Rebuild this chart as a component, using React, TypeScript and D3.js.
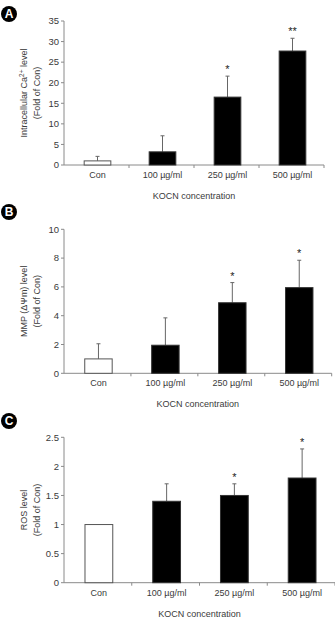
import React, { useEffect, useRef } from 'react';
import * as d3 from 'd3';

// Treatment groups shared by all three panels
const categories = ['Con', '100 µg/ml', '250 µg/ml', '500 µg/ml'];

// Panel A: intracellular Ca2+
const caMean = [1, 3.2, 16.5, 27.7];
const caSd = [1.1, 3.9, 5.1, 3.1];
const caSig = ['', '', '*', '**'];
const caTicks = [0, 5, 10, 15, 20, 25, 30, 35];

// Panel B: mitochondrial membrane potential
const mmpMean = [1, 1.95, 4.9, 5.95];
const mmpSd = [1.05, 1.9, 1.4, 1.9];
const mmpSig = ['', '', '*', '*'];
const mmpTicks = [0, 2, 4, 6, 8, 10];

// Panel C: ROS
const rosMean = [1, 1.4, 1.5, 1.8];
const rosSd = [0, 0.3, 0.2, 0.5];
const rosSig = ['', '', '*', '*'];
const rosTicks = [0, 0.5, 1, 1.5, 2, 2.5];

const FONT = 'Arial, "Liberation Sans", Helvetica, sans-serif';
const TEXT = '#3a3a3a';
const AXIS = '#8a8a8a';

type PanelSpec = {
  letter: string;
  mean: number[];
  sd: number[];
  sig: string[];
  ticks: number[];
  label: (g: d3.Selection<SVGTextElement, unknown, null, undefined>) => void;
  top: number;
  bottom: number;
  right: number;
  badgeY: number;
};

const panels: PanelSpec[] = [
  {
    letter: 'A', mean: caMean, sd: caSd, sig: caSig, ticks: caTicks,
    label: t => {
      t.append('tspan').text('Intracellular Ca');
      t.append('tspan').attr('baseline-shift', 'super').attr('font-size', '6.5px').text('2+');
      t.append('tspan').text(' level');
    },
    top: 21, bottom: 165, right: 324, badgeY: 14,
  },
  {
    letter: 'B', mean: mmpMean, sd: mmpSd, sig: mmpSig, ticks: mmpTicks,
    label: t => { t.text('MMP (ΔΨm) level'); },
    top: 229.3, bottom: 373.3, right: 331.7, badgeY: 212,
  },
  {
    letter: 'C', mean: rosMean, sd: rosSd, sig: rosSig, ticks: rosTicks,
    label: t => { t.text('ROS level'); },
    top: 437.3, bottom: 582.7, right: 335, badgeY: 421,
  },
];

const App = () => {
  const svgRef = useRef<SVGSVGElement>(null);

  useEffect(() => {
    const svg = d3.select(svgRef.current);
    svg.selectAll('*').remove();

    const left = 64;

    panels.forEach(p => {
      const g = svg.append('g');

      const x = d3.scaleBand<string>()
        .domain(categories)
        .range([left + 1, p.right + 1])
        .paddingInner(0.59)
        .paddingOuter(0.295);
      const y = d3.scaleLinear()
        .domain([0, p.ticks[p.ticks.length - 1]])
        .range([p.bottom, p.top]);
      const step = x.step();

      // panel badge
      g.append('circle')
        .attr('cx', 9).attr('cy', p.badgeY).attr('r', 8)
        .attr('fill', '#000');
      g.append('text')
        .attr('x', 9).attr('y', p.badgeY)
        .attr('dy', '0.36em')
        .attr('text-anchor', 'middle')
        .attr('font-family', FONT)
        .attr('font-weight', 'bold')
        .attr('font-size', '12px')
        .attr('fill', '#fff')
        .text(p.letter);

      // y axis
      g.append('line')
        .attr('x1', left).attr('x2', left)
        .attr('y1', y(p.ticks[p.ticks.length - 1])).attr('y2', p.bottom)
        .attr('stroke', AXIS);
      p.ticks.forEach(t => {
        g.append('line')
          .attr('x1', left - 3).attr('x2', left)
          .attr('y1', y(t)).attr('y2', y(t))
          .attr('stroke', AXIS);
        g.append('text')
          .attr('x', left - 5).attr('y', y(t))
          .attr('dy', '0.35em')
          .attr('text-anchor', 'end')
          .attr('font-family', FONT)
          .attr('font-size', '9.5px')
          .attr('fill', TEXT)
          .text(String(t));
      });

      // x axis with ticks between groups
      g.append('line')
        .attr('x1', left).attr('x2', p.right)
        .attr('y1', p.bottom).attr('y2', p.bottom)
        .attr('stroke', AXIS);
      categories.forEach((c, i) => {
        const bx = left + step * (i + 1);
        g.append('line')
          .attr('x1', bx).attr('x2', bx)
          .attr('y1', p.bottom).attr('y2', p.bottom + 3)
          .attr('stroke', AXIS);
      });

      // bars
      categories.forEach((c, i) => {
        const x0 = x(c) as number;
        const bw = x.bandwidth();
        const cx = x0 + bw / 2;
        const yTop = y(p.mean[i]);
        const yErr = y(p.mean[i] + p.sd[i]);

        if (p.sd[i] > 0) {
          g.append('line')
            .attr('x1', cx).attr('x2', cx)
            .attr('y1', yTop).attr('y2', yErr)
            .attr('stroke', '#666');
          g.append('line')
            .attr('x1', cx - 2).attr('x2', cx + 2)
            .attr('y1', yErr).attr('y2', yErr)
            .attr('stroke', '#666');
        }

        g.append('rect')
          .attr('x', x0).attr('y', yTop)
          .attr('width', bw).attr('height', p.bottom - yTop)
          .attr('fill', i === 0 ? '#fff' : '#000')
          .attr('stroke', i === 0 ? '#555' : '#333')
          .attr('stroke-width', 1);

        if (p.sig[i]) {
          g.append('text')
            .attr('x', cx).attr('y', yErr - 3)
            .attr('text-anchor', 'middle')
            .attr('font-family', FONT)
            .attr('font-size', '11px')
            .attr('fill', '#222')
            .text(p.sig[i]);
        }

        g.append('text')
          .attr('x', cx).attr('y', p.bottom + 13)
          .attr('text-anchor', 'middle')
          .attr('font-family', FONT)
          .attr('font-size', '9px')
          .attr('fill', TEXT)
          .text(c);
      });

      // x title
      g.append('text')
        .attr('x', (left + p.right) / 2)
        .attr('y', p.bottom + 34)
        .attr('text-anchor', 'middle')
        .attr('font-family', FONT)
        .attr('font-size', '9px')
        .attr('fill', TEXT)
        .text('KOCN concentration');

      // y title, two lines
      const midY = (p.top + p.bottom) / 2;
      const l1 = g.append('text')
        .attr('transform', `translate(24,${midY}) rotate(-90)`)
        .attr('dy', '0.35em')
        .attr('text-anchor', 'middle')
        .attr('font-family', FONT)
        .attr('font-size', '9px')
        .attr('fill', TEXT);
      p.label(l1);
      g.append('text')
        .attr('transform', `translate(36.5,${midY}) rotate(-90)`)
        .attr('dy', '0.35em')
        .attr('text-anchor', 'middle')
        .attr('font-family', FONT)
        .attr('font-size', '9px')
        .attr('fill', TEXT)
        .text('(Fold of Con)');
    });
  }, []);

  return (
    <svg
      ref={svgRef}
      width={335}
      height={620}
      style={{ position: 'absolute', left: 0, top: 0, background: '#fff' }}
    />
  );
};

export default App;
